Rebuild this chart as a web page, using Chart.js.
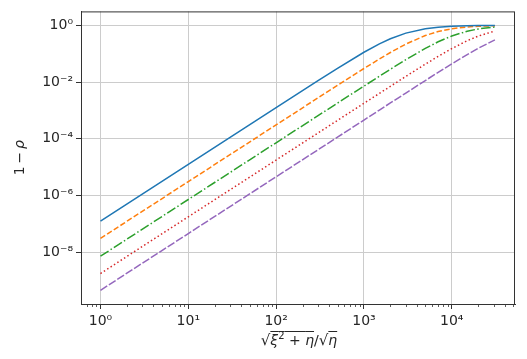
<!DOCTYPE html>
<html>
<head>
<meta charset="utf-8">
<script src="https://cdn.jsdelivr.net/npm/chart.js@4.4.1/dist/chart.umd.min.js"></script>
<style>
	html, body { margin: 0; padding: 0; background: #fff; }
	#wrap { width: 527px; height: 359px; }
</style>
</head>
<body>
<div id="wrap"><canvas id="rho-chart" width="527" height="359"></canvas></div>
<script>
// x = sqrt(xi^2 + eta)/sqrt(eta)
var xValues = [1, 10, 100, 300, 500, 1000, 1500, 2000, 3000, 5000, 7000, 10000, 15000, 20000, 31000];

var blueValues = [1.26e-7, 1.26e-5, 1.26e-3, 0.0112, 0.0305, 0.112, 0.221, 0.335, 0.531, 0.759, 0.860, 0.926, 0.966, 0.981, 0.992];
var orangeValues = [3.09e-8, 3.09e-6, 3.09e-4, 2.77e-3, 7.67e-3, 0.0300, 0.0650, 0.110, 0.218, 0.436, 0.602, 0.756, 0.874, 0.925, 0.967];
var greenValues = [7.24e-9, 7.24e-7, 7.24e-5, 6.52e-4, 1.81e-3, 7.19e-3, 0.0160, 0.0282, 0.0612, 0.153, 0.262, 0.420, 0.620, 0.743, 0.874];
var redValues = [1.78e-9, 1.78e-7, 1.78e-5, 1.60e-4, 4.45e-4, 1.78e-3, 3.98e-3, 7.06e-3, 0.0158, 0.0426, 0.0801, 0.151, 0.286, 0.416, 0.631];
var purpleValues = [4.57e-10, 4.57e-8, 4.57e-6, 4.11e-5, 1.14e-4, 4.57e-4, 1.03e-3, 1.83e-3, 4.09e-3, 0.0113, 0.0219, 0.0437, 0.0932, 0.155, 0.305];

var xMajorTicks = [1, 10, 100, 1000, 10000];
var xTickLabels = ['10\u2070', '10\u00b9', '10\u00b2', '10\u00b3', '10\u2074'];
var xMinorTicks = [0.7, 0.8, 0.9,
	2, 3, 4, 5, 6, 7, 8, 9,
	20, 30, 40, 50, 60, 70, 80, 90,
	200, 300, 400, 500, 600, 700, 800, 900,
	2000, 3000, 4000, 5000, 6000, 7000, 8000, 9000,
	20000, 30000, 40000, 50000];
var yMajorTicks = [1e-8, 1e-6, 1e-4, 1e-2, 1];
var yTickLabels = ['10\u207b\u2078', '10\u207b\u2076', '10\u207b\u2074', '10\u207b\u00b2', '10\u2070'];

var FONT = "'DejaVu Sans', sans-serif";
var TEXT = '#262626';

function pairs(ys) {
	return xValues.map(function(x, i){ return { x: x, y: ys[i] }; });
}

// frame, minor ticks and the two axis titles (mathtext-ish)
var rhoExtras = {
	id: 'rhoExtras',
	afterDraw: function(chart) {
		var ctx = chart.ctx, a = chart.chartArea, xs = chart.scales.x;
		ctx.save();

		ctx.strokeStyle = '#333';
		ctx.lineWidth = 0.8;
		xMinorTicks.forEach(function(v){
			var px = Math.round(xs.getPixelForValue(v)) + 0.5;
			ctx.beginPath();
			ctx.moveTo(px, a.bottom);
			ctx.lineTo(px, a.bottom + 3);
			ctx.stroke();
		});

		ctx.lineWidth = 1;
		ctx.strokeRect(a.left + 0.5, a.top + 0.5, a.right - a.left - 1, a.bottom - a.top);

		// y title: 1 - rho
		ctx.fillStyle = TEXT;
		ctx.textBaseline = 'middle';
		ctx.translate(20, (a.top + a.bottom) / 2);
		ctx.rotate(-Math.PI / 2);
		ctx.font = '14px ' + FONT;
		var p1 = '1\u2009\u2212\u2009';
		var w1 = ctx.measureText(p1).width;
		ctx.font = 'italic 14px ' + FONT;
		var w2 = ctx.measureText('\u03c1').width;
		var sx = -(w1 + w2) / 2;
		ctx.font = '14px ' + FONT;
		ctx.textAlign = 'left';
		ctx.fillText(p1, sx, 0);
		ctx.font = 'italic 14px ' + FONT;
		ctx.fillText('\u03c1', sx + w1, 0);
		ctx.setTransform(1, 0, 0, 1, 0, 0);

		// x title: sqrt(xi^2 + eta)/sqrt(eta)
		var segs = [
			{ t: '\u221a', f: '15px ' + FONT },
			{ t: '\u03be', f: 'italic 14px ' + FONT, over: true },
			{ t: '2', f: '10px ' + FONT, dy: -6, over: true },
			{ t: ' + ', f: '14px ' + FONT, over: true },
			{ t: '\u03b7', f: 'italic 14px ' + FONT, over: true },
			{ t: '/', f: '14px ' + FONT },
			{ t: '\u221a', f: '15px ' + FONT },
			{ t: '\u03b7', f: 'italic 14px ' + FONT, over: true }
		];
		var total = 0;
		segs.forEach(function(s){ ctx.font = s.f; s.w = ctx.measureText(s.t).width; total += s.w; });
		var cx = (a.left + a.right) / 2 - total / 2 + 1;
		var base = 345;
		ctx.textBaseline = 'alphabetic';
		ctx.textAlign = 'left';
		ctx.lineWidth = 1;
		ctx.strokeStyle = TEXT;
		segs.forEach(function(s){
			ctx.font = s.f;
			ctx.fillText(s.t, cx, base + (s.dy || 0));
			if (s.over) {
				ctx.beginPath();
				ctx.moveTo(cx, base - 13.5);
				ctx.lineTo(cx + s.w, base - 13.5);
				ctx.stroke();
			}
			cx += s.w;
		});
		ctx.restore();
	}
};

window.addEventListener('load', function(){
	var ctx = document.getElementById('rho-chart').getContext('2d');
	new Chart(ctx, {
		type: 'line',
		data: {
			datasets: [
				{ data: pairs(blueValues), borderColor: '#1f77b4', borderWidth: 1.5 },
				{ data: pairs(orangeValues), borderColor: '#ff7f0e', borderWidth: 1.5, borderDash: [5.5, 2.4] },
				{ data: pairs(greenValues), borderColor: '#2ca02c', borderWidth: 1.5, borderDash: [9.6, 2.4, 1.5, 2.4] },
				{ data: pairs(redValues), borderColor: '#d62728', borderWidth: 1.5, borderDash: [1.5, 2.5] },
				{ data: pairs(purpleValues), borderColor: '#9467bd', borderWidth: 1.5, borderDash: [8, 2] }
			]
		},
		options: {
			responsive: false,
			animation: false,
			maintainAspectRatio: false,
			layout: { padding: { top: 9, right: 12, left: 0, bottom: 0 } },
			elements: { point: { radius: 0 }, line: { tension: 0, fill: false } },
			plugins: { legend: { display: false }, tooltip: { enabled: false } },
			scales: {
				x: {
					type: 'logarithmic',
					min: 0.603,
					max: 52500,
					afterBuildTicks: function(scale){
						scale.ticks = xMajorTicks.map(function(v){ return { value: v }; });
					},
					afterFit: function(scale){ scale.height = 55; },
					ticks: {
						autoSkip: false,
						maxRotation: 0,
						padding: 4,
						color: TEXT,
						font: { family: FONT, size: 14 },
						callback: function(value){
							var i = xMajorTicks.indexOf(value);
							return i >= 0 ? xTickLabels[i] : '';
						}
					},
					grid: { color: '#cccccc', lineWidth: 1, tickLength: 5, tickColor: '#333' },
					border: { display: true, color: '#333', width: 1 }
				},
				y: {
					type: 'logarithmic',
					min: 1.5e-10,
					max: 3.09,
					afterBuildTicks: function(scale){
						scale.ticks = yMajorTicks.map(function(v){ return { value: v }; });
					},
					afterFit: function(scale){ scale.width = 81; },
					ticks: {
						autoSkip: false,
						padding: 3,
						color: TEXT,
						font: { family: FONT, size: 14 },
						callback: function(value){
							var i = yMajorTicks.indexOf(value);
							return i >= 0 ? yTickLabels[i] : '';
						}
					},
					grid: { color: '#cccccc', lineWidth: 1, tickLength: 5, tickColor: '#333' },
					border: { display: true, color: '#333', width: 1 }
				}
			}
		},
		plugins: [rhoExtras]
	});
});
</script>
</body>
</html>
